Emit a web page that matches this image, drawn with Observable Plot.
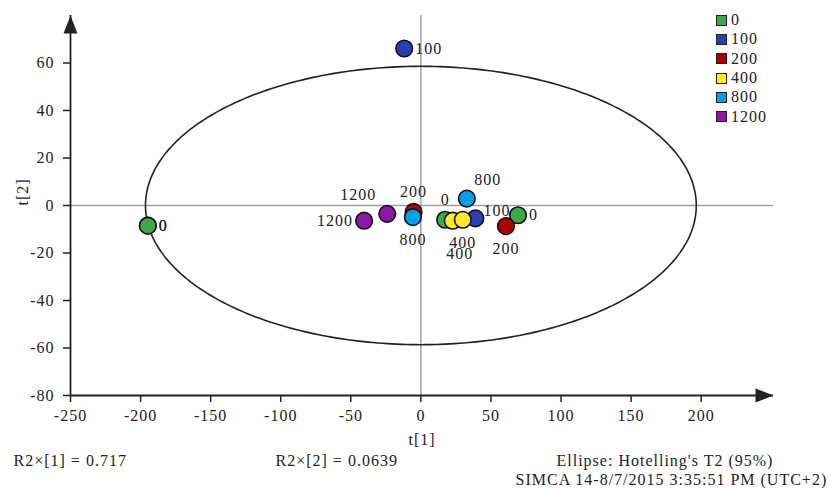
<!DOCTYPE html>
<html>
<head>
<meta charset="utf-8">
<script src="https://cdn.jsdelivr.net/npm/d3@7"></script>
<script src="https://cdn.jsdelivr.net/npm/@observablehq/plot@0.6"></script>
<style>
  html, body { margin: 0; padding: 0; background: #fff; }
  #wrap { position: relative; width: 835px; height: 488px; font-family: "Liberation Serif", serif; }
  #wrap svg text { letter-spacing: 1px; }
  .leg { position: absolute; left: 716px; font-size: 16px; color: #222; line-height: 1; letter-spacing: 1px; }
  .leg .sw { position: absolute; left: 0; width: 9px; height: 9px; border: 1.5px solid #222; }
  .leg .lb { position: absolute; left: 15px; white-space: nowrap; }
</style>
</head>
<body>
<div id="wrap"></div>
<script>
// ---- data ----
const groupKeys = ["0", "100", "200", "400", "800", "1200"];
const groupColors = ["#3daa47", "#2b3fb2", "#b00000", "#ffe82a", "#00a0e8", "#8e17a8"];

const groups = ["0", "0", "100", "1200", "1200", "200", "800", "0", "100", "400", "400", "800", "0", "200"];
const t1 = [-194.8, -194.8, -11.9, -40.5, -24.0, -5.2, -5.7, 17.3, 38.9, 22.7, 29.9, 32.8, 69.3, 60.7];
const t2 = [-8.5, -8.5, 66.1, -6.4, -3.5, -2.7, -4.9, -6.0, -5.4, -6.4, -6.0, 2.9, -4.1, -8.7];
const labelAt = ["right", "right", "right", "left", "top-left", "top", "bottom", "top", "right-up", "bottom-far", "bottom", "top-right", "right", "bottom"];

const xTicks = [-250, -200, -150, -100, -50, 0, 50, 100, 150, 200];
const yTicks = [-80, -60, -40, -20, 0, 20, 40, 60];
const xDomain = [-250, 251.6];
const yDomain = [-80, 80];

// Hotelling's T2 ellipse semi-axes
const ellipseA = 196.5;
const ellipseB = 58.6;

const bottomNotes = ["R2\u00d7[1] = 0.717", "R2\u00d7[2] = 0.0639", "Ellipse: Hotelling's T2 (95%)", "SIMCA 14-8/7/2015 3:35:51 PM (UTC+2)"];

// ---- build ----
const points = groups.map((g, i) => ({group: g, t1: t1[i], t2: t2[i], at: labelAt[i]}));
const offsets = {
  "right": {dx: 11, dy: 0, anchor: "start"},
  "left": {dx: -11, dy: 0, anchor: "end"},
  "top": {dx: 0, dy: -20, anchor: "middle"},
  "bottom": {dx: 0, dy: 23, anchor: "middle"},
  "bottom-far": {dx: 7, dy: 33, anchor: "middle"},
  "top-left": {dx: -29, dy: -19, anchor: "middle"},
  "top-right": {dx: 21, dy: -19, anchor: "middle"},
  "right-up": {dx: 8, dy: -7, anchor: "start"}
};
const ellipse = d3.range(0, 361).map(d => {
  const a = d * Math.PI / 180;
  return {x: ellipseA * Math.cos(a), y: ellipseB * Math.sin(a)};
});

const arrowRight = {draw(ctx) { ctx.moveTo(0, 0); ctx.lineTo(-18, -7); ctx.lineTo(-18, 7); ctx.closePath(); }};
const arrowUp = {draw(ctx) { ctx.moveTo(0, 0); ctx.lineTo(-7, 18); ctx.lineTo(7, 18); ctx.closePath(); }};

const labelMarks = Object.entries(offsets).map(([k, o]) =>
  Plot.text(points.filter(p => p.at === k), {
    x: "t1", y: "t2", text: "group", dx: o.dx, dy: o.dy, textAnchor: o.anchor,
    fontSize: 16, fill: "#222"
  })
);

const fmt = d => String(d);

const chart = Plot.plot({
  width: 835,
  height: 488,
  marginLeft: 70,
  marginRight: 62,
  marginTop: 15,
  marginBottom: 93,
  style: {fontFamily: "Liberation Serif, serif", fontSize: "16px", color: "#222", background: "#fff"},
  x: {domain: xDomain},
  y: {domain: yDomain},
  color: {domain: groupKeys, range: groupColors},
  marks: [
    // zero reference lines
    Plot.ruleY([0], {stroke: "#a0a0a0", strokeWidth: 1.5}),
    Plot.ruleX([0], {stroke: "#a0a0a0", strokeWidth: 1.5}),
    // axes
    Plot.axisX({ticks: xTicks, tickFormat: fmt, tickSize: 7, tickPadding: 7, fontSize: 16, label: null, stroke: "#222", strokeWidth: 1.5}),
    Plot.axisY({ticks: yTicks, tickFormat: fmt, tickSize: 7, tickPadding: 9, fontSize: 16, label: null, stroke: "#222", strokeWidth: 1.5}),
    Plot.ruleY([yDomain[0]], {stroke: "#222", strokeWidth: 1.8}),
    Plot.ruleX([xDomain[0]], {stroke: "#222", strokeWidth: 1.8}),
    Plot.dot([0], {x: () => xDomain[1], y: () => yDomain[0], symbol: arrowRight, fill: "#222", stroke: "none"}),
    Plot.dot([0], {x: () => xDomain[0], y: () => yDomain[1], symbol: arrowUp, fill: "#222", stroke: "none"}),
    // ellipse
    Plot.line(ellipse, {x: "x", y: "y", stroke: "#222", strokeWidth: 1.6}),
    // points
    Plot.dot(points, {x: "t1", y: "t2", fill: "group", stroke: "#111", strokeWidth: 1.6, r: 8.3}),
    ...labelMarks,
    // axis titles
    Plot.text(["t[1]"], {frameAnchor: "bottom", dy: 49, fontSize: 16, fill: "#222"}),
    Plot.text(["t[2]"], {frameAnchor: "left", dx: -48, rotate: -90, fontSize: 16, fill: "#222"}),
    // footer notes
    Plot.text([bottomNotes[0]], {frameAnchor: "bottom-left", dx: -57, dy: 70, textAnchor: "start", fontSize: 16, fill: "#222"}),
    Plot.text([bottomNotes[1]], {frameAnchor: "bottom-left", dx: 205, dy: 70, textAnchor: "start", fontSize: 16, fill: "#222"}),
    Plot.text([bottomNotes[2]], {frameAnchor: "bottom-left", dx: 486, dy: 70, textAnchor: "start", fontSize: 16, fill: "#222"}),
    Plot.text([bottomNotes[3]], {frameAnchor: "bottom-left", dx: 445, dy: 89, textAnchor: "start", fontSize: 16, fill: "#222"})
  ]
});

const wrap = document.getElementById("wrap");
wrap.appendChild(chart);

// legend
groupKeys.forEach((g, i) => {
  const row = document.createElement("div");
  row.className = "leg";
  row.style.top = (20 + i * 19.35 - 6) + "px";
  row.innerHTML = `<span class="sw" style="background:${groupColors[i]};top:0.5px"></span><span class="lb" style="top:-2px">${g}</span>`;
  wrap.appendChild(row);
});
</script>
</body>
</html>
